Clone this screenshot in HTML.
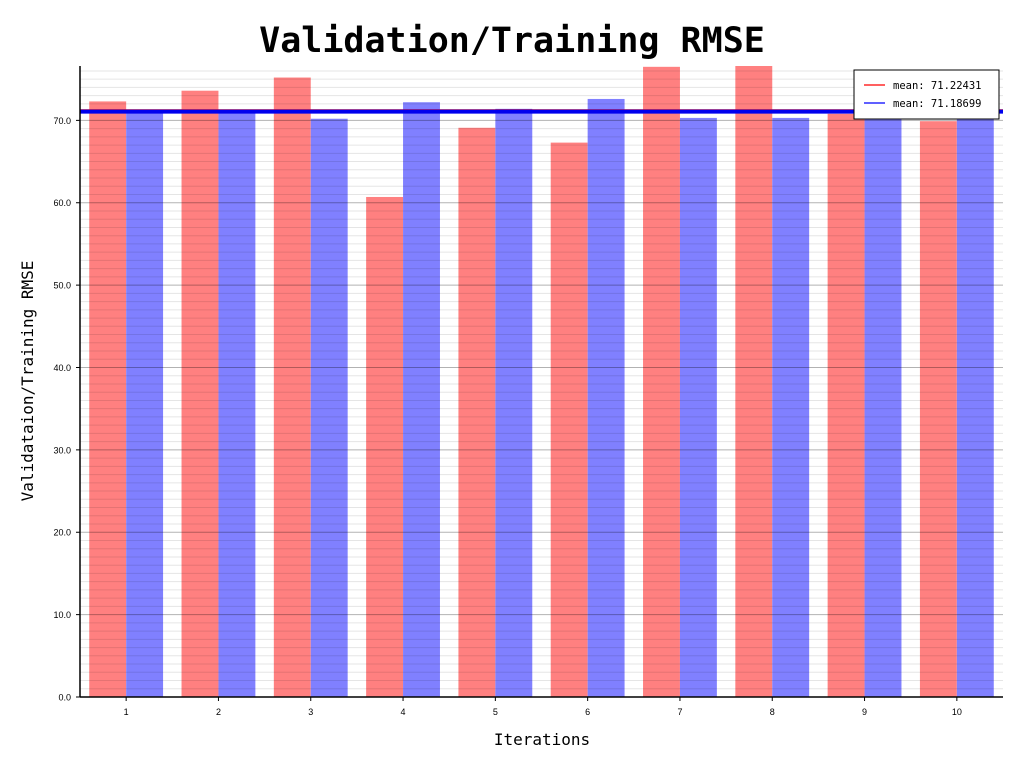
<!DOCTYPE html>
<html><head><meta charset="utf-8"><style>
body{margin:0;background:#fff;}
svg{display:block;font-family:"DejaVu Sans Mono","Liberation Mono",monospace;}
</style></head><body>
<svg id="chart" width="1024" height="768">
<text x="512" y="52" text-anchor="middle" font-size="35" font-weight="bold">Validation/Training RMSE</text>
<text x="542" y="745" text-anchor="middle" font-size="16">Iterations</text>
<text transform="translate(33,381) rotate(-90)" text-anchor="middle" font-size="16">Validataion/Training RMSE</text>
<g id="grid"></g><g id="bars"></g><g id="gridTop"></g><g id="lines"></g><g id="axes"></g>
<g>
<rect x="854" y="70" width="145" height="49" fill="#fff" stroke="#000" stroke-width="1"/>
<line x1="864" y1="85" x2="885" y2="85" stroke="#f00" stroke-width="1.2"/>
<text x="893" y="89" font-size="10.5">mean: 71.22431</text>
<line x1="864" y1="103" x2="885" y2="103" stroke="#00f" stroke-width="1.2"/>
<text x="893" y="107" font-size="10.5">mean: 71.18699</text>
</g>
</svg>
<script>
const categories=[1,2,3,4,5,6,7,8,9,10];
const validation=[72.3,73.6,75.2,60.7,69.1,67.3,76.5,76.6,70.8,69.9];
const training=[71.0,71.1,70.2,72.2,71.4,72.6,70.3,70.3,71.3,71.4];
const yTicks=[0,10,20,30,40,50,60,70];
const meanValidation=71.22431;
const meanTraining=71.18699;
const NS="http://www.w3.org/2000/svg";
const X0=80,X1=1003,Y0=697,Y1=66,YMAX=76.6;
const xs=v=>X0+(v-0.5)/10*(X1-X0);
const ys=v=>Y0-v/YMAX*(Y0-Y1);
const bw=(X1-X0)/10*0.4;
function mk(t,a,p){const e=document.createElementNS(NS,t);for(const k in a)e.setAttribute(k,a[k]);p.appendChild(e);return e;}
const grid=document.getElementById('gridTop'),bars=document.getElementById('bars'),lines=document.getElementById('lines'),axes=document.getElementById('axes');
for(let v=1;v<YMAX;v++){
 if(v%10===0)continue;
 const l=mk('line',{x1:X0,x2:X1,y1:ys(v),y2:ys(v),stroke:'#000','stroke-opacity':0.1,'stroke-width':1},grid);
 
 
}
yTicks.forEach(v=>{
 const l=mk('line',{x1:X0,x2:X1,y1:ys(v),y2:ys(v),stroke:'#000','stroke-opacity':0.3,'stroke-width':1},grid);
 
 
 mk('line',{x1:X0-4,x2:X0,y1:ys(v),y2:ys(v),stroke:'#000'},axes);
 const t=mk('text',{x:X0-9,y:ys(v)+3.5,'text-anchor':'end','font-size':9,'font-family':'Liberation Sans, sans-serif'},axes);
 t.textContent=v.toFixed(1);
 
 
});
categories.forEach((c,i)=>{
 const cx=xs(c);
 const r=mk('rect',{x:cx-bw,y:ys(validation[i]),width:bw,height:Y0-ys(validation[i]),fill:'#ff8080'},bars);
 
 
 const b=mk('rect',{x:cx,y:ys(training[i]),width:bw,height:Y0-ys(training[i]),fill:'#8080ff'},bars);
 
 
 mk('line',{x1:cx,x2:cx,y1:Y0,y2:Y0+4,stroke:'#000'},axes);
 const t=mk('text',{x:cx,y:Y0+18,'text-anchor':'middle','font-size':9,'font-family':'Liberation Sans, sans-serif'},axes);
 t.textContent=c;
 
 
});
const lr=mk('line',{x1:X0,x2:X1,y1:ys(meanValidation),y2:ys(meanValidation),stroke:'#e00','stroke-width':2},lines);


const lb=mk('line',{x1:X0,x2:X1,y1:ys(meanTraining)+1,y2:ys(meanTraining)+1,stroke:'#00e','stroke-width':4},lines);


const ax=mk('line',{x1:X0,x2:X0,y1:Y1,y2:Y0,stroke:'#000','stroke-width':1.5},axes);


const bx=mk('line',{x1:X0,x2:X1,y1:Y0,y2:Y0,stroke:'#000','stroke-width':1.5},axes);


</script>
</body></html>
